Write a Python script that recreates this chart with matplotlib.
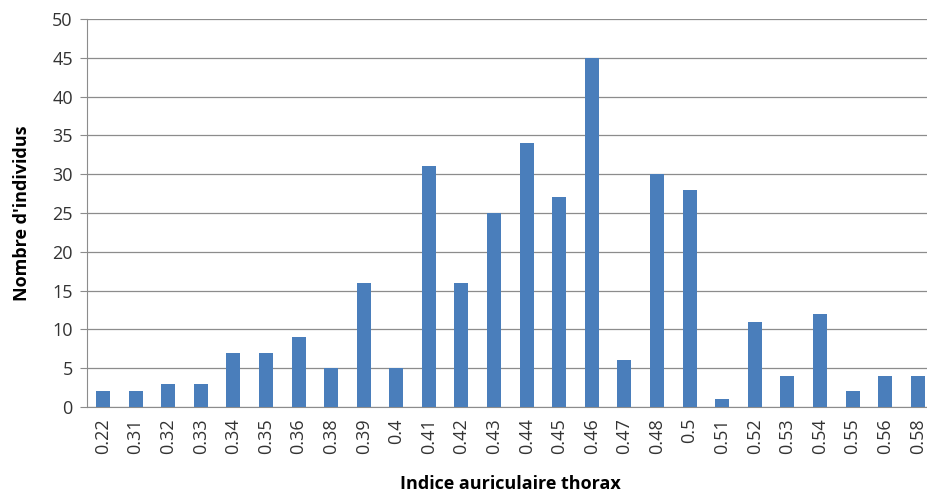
import matplotlib
matplotlib.use('Agg')
import matplotlib.pyplot as plt
import numpy as np

# Indice auriculaire thorax classes and counts.
categories = ['0.22', '0.31', '0.32', '0.33', '0.34', '0.35', '0.36', '0.38',
              '0.39', '0.4', '0.41', '0.42', '0.43', '0.44', '0.45', '0.46',
              '0.47', '0.48', '0.5', '0.51', '0.52', '0.53', '0.54', '0.55',
              '0.56', '0.58']
counts = [2, 2, 3, 3, 7, 7, 9, 5, 16, 5, 31, 16, 25, 34, 27, 45,
          6, 30, 28, 1, 11, 4, 12, 2, 4, 4]
y_ticks = [0, 5, 10, 15, 20, 25, 30, 35, 40, 45, 50]

plt.rcParams['font.family'] = ['Open Sans', 'DejaVu Sans']

fig = plt.figure(figsize=(9.27, 4.95), dpi=100)
axes = fig.add_axes([86.7 / 927, 1 - 407 / 495, (934 - 86.7) / 927, (407 - 19) / 495])

x = np.arange(len(categories))
axes.bar(x, counts, width=0.43, color='#4a7ebb', zorder=3)

axes.set_xlim(-0.5, len(categories) - 0.5)
axes.set_ylim(0, 50)
axes.set_yticks(y_ticks)
axes.set_yticklabels([str(v) for v in y_ticks], fontsize=13, color='#333333')
axes.set_xticks(x)
axes.set_xticklabels(categories, rotation=90, fontsize=13, color='#333333')
axes.tick_params(axis='x', length=0, pad=8)
axes.tick_params(axis='y', length=5, color='#8c8c8c', pad=5)

axes.grid(axis='y', color='#8c8c8c', linewidth=0.9, zorder=0)
for side in ('top', 'right'):
    axes.spines[side].set_visible(False)
axes.spines['left'].set_color('#8c8c8c')
axes.spines['bottom'].set_color('#8c8c8c')

axes.set_ylabel("Nombre d'individus", fontsize=13, fontweight='bold', labelpad=15)
axes.set_xlabel('Indice auriculaire thorax', fontsize=13, fontweight='bold', labelpad=15)

fig.savefig('out.png', dpi=100)
